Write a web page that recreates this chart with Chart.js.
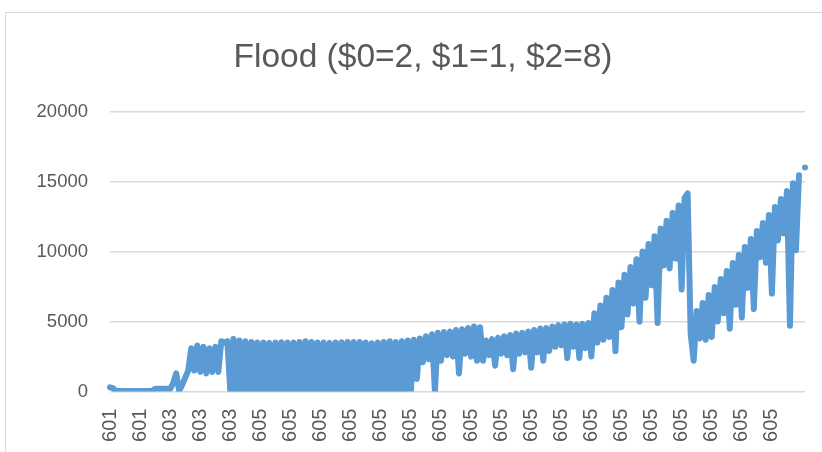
<!DOCTYPE html>
<html>
<head>
<meta charset="utf-8">
<script src="https://cdn.jsdelivr.net/npm/chart.js@4.4.0/dist/chart.umd.min.js"></script>
<style>
  html, body { margin: 0; padding: 0; background: #fff; overflow: hidden; }
  #frame { position: absolute; left: 5px; top: 12px; width: 840px; height: 460px; border-left: 1px solid #d9d9d9; border-top: 1px solid #d9d9d9; }
  #wrap { position: absolute; left: 0; top: 0; width: 860px; height: 452px; }
</style>
</head>
<body>
<div id="frame"></div>
<div id="wrap"><canvas id="flood"></canvas></div>
<script>
(function(){

    'use strict';

    var title = 'Flood ($0=2, $1=1, $2=8)';

    // one tick label every 10 points
    var tickLabels = ['601', '601', '603', '603', '603',
        '605', '605', '605', '605', '605', '605', '605', '605', '605',
        '605', '605', '605', '605', '605', '605', '605', '605', '605'];

    // values (the series swings hard between a top and a bottom)
    var flood = [
        300, 250, 50, 50, 50, 50, 50, 50, 50, 50,
        50, 50, 50, 50, 50, 200, 200, 200, 200, 200,
        200, 600, 1300, 50, 500, 1000, 1500, 3100, 1500, 3300,
        1400, 3200, 1300, 3100, 1400, 3200, 1400, 3600, 3500, 3600,
        0, 3750, 0, 3650, 0, 3600, 0, 3550, 0, 3500,
        0, 3500, 0, 3480, 0, 3500, 0, 3520, 0, 3500,
        0, 3500, 0, 3550, 0, 3600, 0, 3550, 0, 3500,
        0, 3500, 0, 3480, 0, 3500, 0, 3520, 0, 3550,
        0, 3550, 0, 3550, 0, 3500, 0, 3450, 0, 3500,
        0, 3550, 0, 3600, 0, 3550, 0, 3600, 0, 3650,
        0, 3700, 900, 3800, 2100, 3950, 2300, 4100, 0, 4200,
        2200, 4250, 2600, 4300, 2500, 4400, 1300, 4450, 2700, 4550,
        2500, 4650, 2200, 4600, 2200, 3650, 2600, 3750, 1850, 3850,
        2700, 3950, 2600, 4050, 1600, 4150, 2700, 4200, 2800, 4300,
        1700, 4400, 2800, 4500, 2200, 4550, 2900, 4650, 3200, 4750,
        3300, 4800, 2400, 4850, 3200, 4800, 2400, 4850, 3100, 4900,
        2500, 5600, 3500, 6150, 3700, 6700, 3900, 7250, 2900, 7800,
        4600, 8350, 5500, 8900, 6300, 9450, 5000, 10000, 6700, 10550,
        7600, 11100, 4900, 11650, 9000, 12200, 8800, 12750, 9500, 13300,
        7300, 13850, 14150, 4100, 2200, 5760, 3800, 6330, 3700, 6900,
        3900, 7480, 5000, 8050, 5600, 8620, 4500, 9190, 6200, 9760,
        5300, 10330, 7400, 10900, 5900, 11470, 9600, 12040, 9200, 12610,
        7000, 13180, 10800, 13750, 11300, 14320, 4700, 14890, 10100, 15460,
        10300, 16000
    ];

    var yTicks = [0, 5000, 10000, 15000, 20000];

    var labels = flood.map(function(v, i){
        return i % 10 === 0 ? tickLabels[i / 10] : '';
    });

    var grey = '#595959';
    var face = 'Liberation Sans';

    new Chart(document.getElementById('flood'), {
        type: 'line',
        data: {
            labels: labels,
            datasets: [
                {
                    label: 'Flood',
                    data: flood,
                    borderColor: '#5b9bd5',
                    borderWidth: 6,
                    borderJoinStyle: 'round',
                    borderCapStyle: 'round',
                    pointRadius: 0,
                    tension: 0,
                    fill: false
                }
            ]
        },
        options: {
            animation: false,
            responsive: true,
            maintainAspectRatio: false,
            layout: { padding: { left: 5, right: 19, top: 12, bottom: 0 } },
            plugins: {
                legend: { display: false },
                tooltip: { enabled: false },
                title: {
                    display: true,
                    text: title,
                    color: grey,
                    font: { family: face, size: 33.5, weight: 'normal', lineHeight: 1.2 },
                    padding: { top: 26, bottom: 33.4 }
                }
            },
            scales: {
                x: {
                    grid: { display: false, drawTicks: false },
                    border: { display: false },
                    ticks: {
                        autoSkip: false,
                        minRotation: 90,
                        maxRotation: 90,
                        padding: 17,
                        color: grey,
                        font: { family: face, size: 20 }
                    },
                    afterFit: function(scale){
                        scale.height = 60.4;
                        scale.paddingLeft = 0;
                        scale.paddingRight = 0;
                    }
                },
                y: {
                    min: yTicks[0],
                    max: yTicks[yTicks.length - 1],
                    ticks: {
                        stepSize: yTicks[1] - yTicks[0],
                        padding: 22,
                        color: grey,
                        font: { family: face, size: 18.5 },
                        callback: function(v){ return String(v); }
                    },
                    grid: { color: '#d9d9d9', lineWidth: 1.5, drawTicks: false },
                    border: { display: false },
                    afterFit: function(scale){ scale.width = 105; }
                },
                // empty right axis, only to keep the title centred like the original frame
                side: {
                    type: 'linear',
                    position: 'right',
                    grid: { display: false, drawTicks: false },
                    border: { display: false },
                    ticks: { display: false },
                    afterFit: function(scale){ scale.width = 36; }
                }
            }
        }
    });
})();
</script>
</body>
</html>
